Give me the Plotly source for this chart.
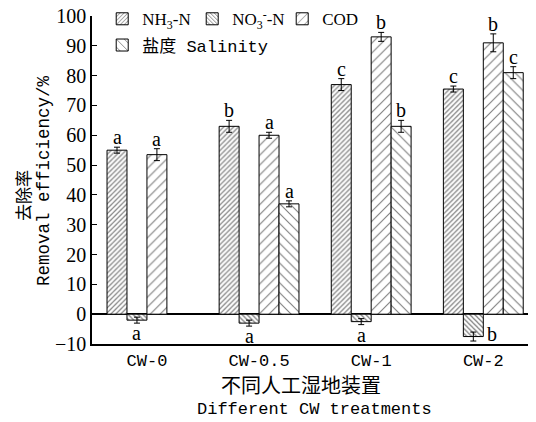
import plotly.graph_objects as go

categories = ["CW-0", "CW-0.5", "CW-1", "CW-2"]
series_names = ["NH<sub>3</sub>-N", "NO<sub>3</sub><sup>-</sup>-N", "COD", "盐度 Salinity"]
nh3 = [55, 63, 77, 75.5]
nh3_err = [1, 2, 2, 1]
no3 = [-2, -3, -2.5, -7.5]
no3_err = [1, 1, 1, 1.5]
cod = [53.5, 60, 93, 91]
cod_err = [2, 1, 1.5, 3]
sal = [None, 37, 63, 81]
sal_err = [None, 1, 2, 2]
letters = [["a", "b", "c", "c"], ["a", "a", "a", "b"], ["a", "a", "b", "b"], ["", "a", "b", "c"]]
y_ticks = [-10, 0, 10, 20, 30, 40, 50, 60, 70, 80, 90, 100]

values = [nh3, no3, cod, sal]
errors = [nh3_err, no3_err, cod_err, sal_err]
patterns = [dict(shape="/", size=3.5, solidity=0.35), dict(shape="\\", size=3.5, solidity=0.35),
            dict(shape="/", size=7, solidity=0.16), dict(shape="\\", size=7, solidity=0.16)]
legends = ["legend", "legend", "legend", "legend2"]

SERIF = "Liberation Serif, Noto Sans CJK SC"
MONO = "Liberation Mono, Noto Sans CJK SC"
W = 0.178
xs = list(range(len(categories)))

fig = go.Figure()
for i in range(4):
    p = dict(patterns[i]); p.update(fgcolor="black", bgcolor="white")
    fig.add_trace(go.Bar(
        x=xs, y=values[i], name=series_names[i], width=W, offset=(i - 2) * W,
        marker=dict(color="white", line=dict(color="black", width=1), pattern=p),
        error_y=dict(type="data", array=errors[i], color="black", thickness=1, width=3),
        legend=legends[i],
    ))

anns = []
for i in range(4):
    for j, x in enumerate(xs):
        v = values[i][j]; e = errors[i][j]; t = letters[i][j]
        if v is None or not t:
            continue
        xc = x + (i - 1.5) * W
        if v >= 0:
            anns.append(dict(x=xc, y=v + e, text=t, showarrow=False, yanchor="bottom", yshift=-3,
                             font=dict(family=SERIF, size=20, color="black")))
        elif j == 3:
            anns.append(dict(x=xc + W / 2, y=v, text=t, showarrow=False, xanchor="left", yanchor="middle",
                             xshift=2, yshift=3, font=dict(family=SERIF, size=20, color="black")))
        else:
            anns.append(dict(x=xc, y=v - e, text=t, showarrow=False, yanchor="top", yshift=3,
                             font=dict(family=SERIF, size=20, color="black")))

anns.append(dict(x=0.47, y=-0.088, xref="paper", yref="paper", xanchor="center", yanchor="top", showarrow=False,
                 text="不同人工湿地装置", font=dict(family=MONO, size=20, color="black")))
anns.append(dict(x=0.50, y=-0.165, xref="paper", yref="paper", xanchor="center", yanchor="top", showarrow=False,
                 text="Different CW treatments", font=dict(family=MONO, size=17, color="black")))
anns.append(dict(x=-0.151, y=0.454, xref="paper", yref="paper", xanchor="center", yanchor="middle",
                 showarrow=False, textangle=-90,
                 text="去除率", font=dict(family=MONO, size=17, color="black")))
anns.append(dict(x=-0.108, y=0.497, xref="paper", yref="paper", xanchor="center", yanchor="middle",
                 showarrow=False, textangle=-90,
                 text="Removal efficiency/%", font=dict(family=MONO, size=17.5, color="black")))

fig.update_layout(
    width=528, height=414, barmode="overlay",
    margin=dict(l=84, r=0, t=8, b=78, autoexpand=False),
    plot_bgcolor="white", paper_bgcolor="white",
    annotations=anns,
    showlegend=True,
    legend=dict(orientation="h", x=0.023, y=1.045, xanchor="left", yanchor="top",
                font=dict(family=SERIF, size=17, color="black"), bgcolor="rgba(0,0,0,0)",
                entrywidth=45, traceorder="normal", tracegroupgap=0),
    legend2=dict(orientation="h", x=0.023, y=0.965, xanchor="left", yanchor="top",
                 font=dict(family=MONO, size=17, color="black"), bgcolor="rgba(0,0,0,0)"),
    xaxis=dict(range=[-0.49, 3.47], tickvals=xs, ticktext=categories, showline=True, linecolor="black",
               linewidth=1.5, ticks="", tickfont=dict(family=MONO, size=17, color="black"),
               showgrid=False, zeroline=False, mirror=False),
    yaxis=dict(range=[-10, 100], tickvals=y_ticks, showline=True, linecolor="black", linewidth=1.5,
               ticks="inside", ticklen=5, tickcolor="black", tickfont=dict(family=SERIF, size=20, color="black"),
               ticklabeloverflow="allow",
               showgrid=False, zeroline=True, zerolinecolor="black", zerolinewidth=1.5),
)
fig.write_html("out.html")
